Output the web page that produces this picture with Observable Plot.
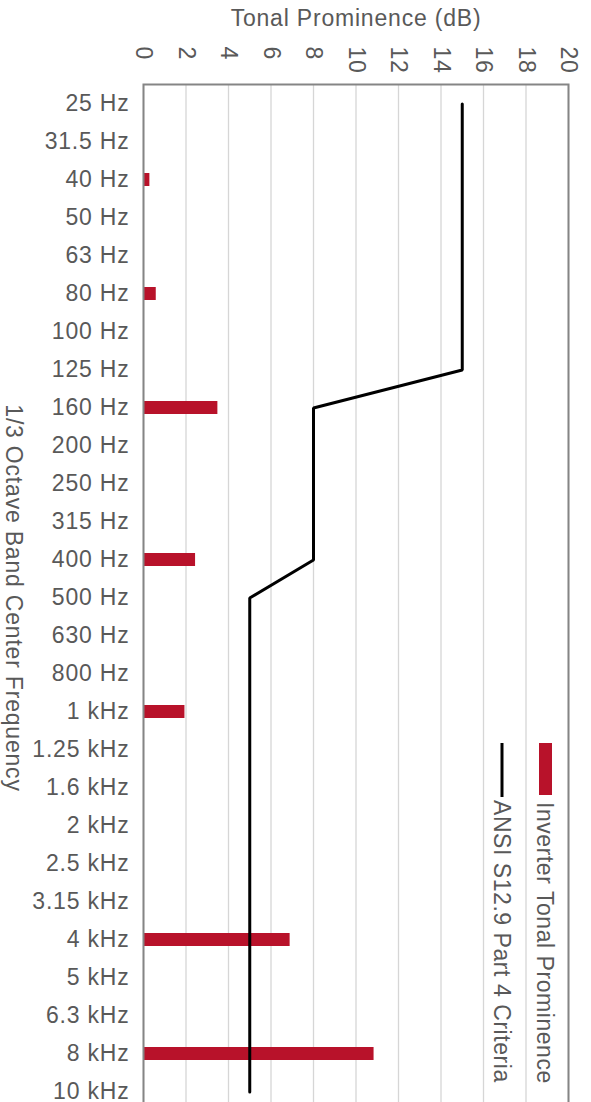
<!DOCTYPE html>
<html>
<head>
<meta charset="utf-8">
<script src="https://cdn.jsdelivr.net/npm/d3@7"></script>
<script src="https://cdn.jsdelivr.net/npm/@observablehq/plot@0.6"></script>
<style>
  html, body { margin: 0; padding: 0; background: #fff; overflow: hidden; }
</style>
</head>
<body>
<div id="chart"></div>
<script>
// 1/3 octave band center frequencies
const bandLabels = [
  "25 Hz", "31.5 Hz", "40 Hz", "50 Hz", "63 Hz", "80 Hz", "100 Hz", "125 Hz",
  "160 Hz", "200 Hz", "250 Hz", "315 Hz", "400 Hz", "500 Hz", "630 Hz", "800 Hz",
  "1 kHz", "1.25 kHz", "1.6 kHz", "2 kHz", "2.5 kHz", "3.15 kHz", "4 kHz",
  "5 kHz", "6.3 kHz", "8 kHz", "10 kHz"
];

// Measured tonal prominence of the inverter (dB); null where no tone was found
const inverterProminence = [
  null, null, 0.3, null, null, 0.6, null, null,
  3.5, null, null, null, 2.45, null, null, null,
  1.95, null, null, null, null, null, 6.9,
  null, null, 10.85, null
];

// ANSI S12.9 Part 4 prominence criteria (dB)
const ansiCriteria = [
  15, 15, 15, 15, 15, 15, 15, 15,
  8, 8, 8, 8, 8, 5, 5, 5,
  5, 5, 5, 5, 5, 5, 5,
  5, 5, 5, 5
];

const xTicks = [0, 2, 4, 6, 8, 10, 12, 14, 16, 18, 20];

const barColor = "#b8122a";
const textColor = "#595959";
const fontFamily = "'Liberation Sans', Arial, sans-serif";

const bars = bandLabels
  .map((band, i) => ({band, value: inverterProminence[i]}))
  .filter(d => d.value != null);
const criteria = bandLabels.map((band, i) => ({band, value: ansiCriteria[i]}));

const chart = Plot.plot({
  width: 591,
  height: 1130,
  marginLeft: 143,
  marginRight: 23,
  marginTop: 84,
  marginBottom: 19,
  style: {
    fontFamily,
    fontSize: "23px",
    letterSpacing: "0.8px",
    color: textColor,
    background: "#fff"
  },
  x: {domain: [0, 20]},
  y: {domain: bandLabels, paddingInner: 0.67, paddingOuter: 0.335},
  marks: [
    Plot.gridX(xTicks, {stroke: "#d6d6d6", strokeOpacity: 1, strokeWidth: 1.3}),
    Plot.barX(bars, {x: "value", y: "band", fill: barColor}),
    Plot.line(criteria, {x: "value", y: "band", stroke: "#000", strokeWidth: 3, strokeLinejoin: "miter"}),
    Plot.frame({stroke: "#858585", strokeWidth: 2}),
    Plot.axisX(xTicks, {
      anchor: "top", tickSize: 0, tickRotate: 90, tickPadding: 38,
      textAnchor: "start", lineAnchor: "middle", label: null
    }),
    Plot.axisY({tickSize: 0, tickPadding: 14, label: null}),
    Plot.text(["Tonal Prominence (dB)"], {
      frameAnchor: "top", dy: -66, lineAnchor: "middle", textAnchor: "middle", fontSize: 23
    }),
    Plot.text(["1/3 Octave Band Center Frequency"], {
      frameAnchor: "left", dx: -130.5, rotate: 90, lineAnchor: "middle", textAnchor: "middle", fontSize: 23
    })
  ]
});

// Legend, laid over the right side of the plot area, rotated like the axis labels
const svg = d3.select(chart);
const legend = svg.append("g")
  .attr("font-family", fontFamily)
  .attr("font-size", 23)
  .attr("letter-spacing", "0.55px")
  .attr("text-anchor", "start")
  .attr("fill", textColor);

legend.append("rect")
  .attr("x", 539).attr("y", 743).attr("width", 13).attr("height", 52)
  .attr("fill", barColor);
legend.append("text")
  .attr("transform", "translate(545,802) rotate(90)")
  .attr("dy", "0.35em")
  .text("Inverter Tonal Prominence");

legend.append("line")
  .attr("x1", 502).attr("x2", 502).attr("y1", 743).attr("y2", 797)
  .attr("stroke", "#000").attr("stroke-width", 3);
legend.append("text")
  .attr("transform", "translate(502,800) rotate(90)")
  .attr("dy", "0.35em")
  .text("ANSI S12.9 Part 4 Criteria");

document.getElementById("chart").appendChild(chart);
</script>
</body>
</html>
